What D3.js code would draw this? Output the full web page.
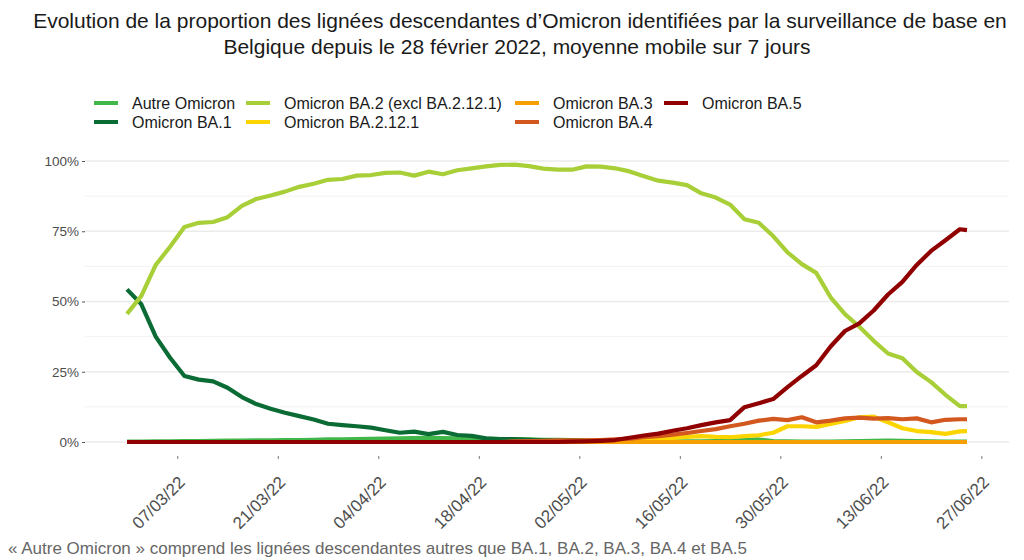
<!DOCTYPE html>
<html>
<head>
<meta charset="utf-8">
<script src="https://cdn.jsdelivr.net/npm/d3@7"></script>
<style>
  body { margin: 0; background: #fff; }
  svg { font-family: "Liberation Sans", Arial, sans-serif; }
</style>
</head>
<body>
<div id="chart"></div>
<script>
// Dates (7-day moving average, every 2nd day + last day)
const dates = ["28/02/22","02/03/22","04/03/22","06/03/22","08/03/22","10/03/22","12/03/22","14/03/22","16/03/22","18/03/22",
  "20/03/22","22/03/22","24/03/22","26/03/22","28/03/22","30/03/22","01/04/22","03/04/22","05/04/22","07/04/22",
  "09/04/22","11/04/22","13/04/22","15/04/22","17/04/22","19/04/22","21/04/22","23/04/22","25/04/22","27/04/22",
  "29/04/22","01/05/22","03/05/22","05/05/22","07/05/22","09/05/22","11/05/22","13/05/22","15/05/22","17/05/22",
  "19/05/22","21/05/22","23/05/22","25/05/22","27/05/22","29/05/22","31/05/22","02/06/22","04/06/22","06/06/22",
  "08/06/22","10/06/22","12/06/22","14/06/22","16/06/22","18/06/22","20/06/22","22/06/22","24/06/22","25/06/22"];

const autre = [0.1,0.1,0.2,0.2,0.3,0.3,0.4,0.5,0.5,0.6, 0.6,0.7,0.7,0.8,0.9,0.9,1.0,1.1,1.2,1.3,
  1.4,1.5,1.4,1.3,1.2,1.1,1.0,0.9,0.9,0.8, 0.8,0.7,0.6,0.5,0.4,0.3,0.3,0.2,0.2,0.2,
  0.2,0.3,0.4,0.7,0.9,0.3,0.2,0.1,0.1,0.1, 0.2,0.3,0.4,0.5,0.4,0.3,0.2,0.1,0.1,0.1];

const ba1 = [54.3,49,37.5,30,23.5,22.2,21.6,19.3,16,13.5, 11.8,10.4,9.2,8,6.5,6,5.6,5.1,4.2,3.3,
  3.7,2.8,3.6,2.5,2.2,1.3,1,1,0.8,0.6, 0.5,0.4,0.3,0.2,0.1,0,0,0,0,0,
  0,0,0,0,0,0,0,0,0,0, 0,0,0,0,0,0,0,0,0,0];

const ba2 = [45.6,52,63,69.5,76.5,78,78.3,80,84,86.5, 87.7,89.1,90.8,91.9,93.3,93.6,94.8,95,95.8,95.9,
  94.8,96.2,95.3,96.7,97.4,98.1,98.6,98.7,98.2,97.3, 96.9,96.9,98.1,98,97.4,96.3,94.6,93,92.3,91.4,
  88.5,87,84.5,79.3,78,73.3,67.5,63.3,60.2,51.5, 45.5,41,36,31.5,29.8,24.9,21.3,16.8,12.8,12.8];

const ba2121 = [0,0,0,0,0,0,0,0,0,0, 0,0,0,0,0,0,0,0,0,0,
  0,0,0,0,0,0,0,0,0,0.1, 0.2,0.3,0.4,0.5,0.6,0.7,0.9,1.0,1.5,1.8,
  2.1,1.8,1.7,2.1,2.4,3.3,5.6,5.6,5.4,6.4, 7.5,8.8,9.0,7.0,4.9,3.9,3.5,2.9,3.8,3.9];

const ba3 = [0,0,0,0,0,0,0,0,0,0, 0,0,0,0,0,0,0,0,0,0,
  0,0,0,0,0,0,0,0,0,0, 0,0,0,0,0,0,0,0,0,0,
  0,0,0,0,0,0,0,0,0,0, 0,0,0,0,0,0,0,0,0,0];

const ba4 = [0,0,0,0,0,0,0,0,0,0, 0,0,0,0,0,0,0,0,0,0,
  0,0,0,0,0,0,0,0.2,0.3,0.4, 0.6,0.6,0.6,0.7,0.9,1.2,1.7,2.1,2.6,3.2,
  3.9,4.6,5.6,6.5,7.6,8.2,7.8,8.8,7.0,7.6, 8.4,8.7,8.3,8.5,8.1,8.4,7.0,7.9,8.1,8.1];

const ba5 = [0,0,0,0,0,0,0,0,0,0, 0,0,0,0,0,0,0,0,0,0,
  0,0,0,0,0,0,0,0,0,0, 0,0.1,0.2,0.4,0.7,1.5,2.3,3,4,4.9,
  6,7,7.8,12.4,13.8,15.3,19.5,23.5,27.3,34, 39.5,42.2,46.8,52.5,57,63,68,71.8,75.7,75.4];

const seriesNames = ["Autre Omicron", "Omicron BA.1", "Omicron BA.2 (excl BA.2.12.1)",
  "Omicron BA.2.12.1", "Omicron BA.3", "Omicron BA.4", "Omicron BA.5"];
const seriesValues = [autre, ba1, ba2, ba2121, ba3, ba4, ba5];
const colors = ["#41b649", "#0b6b35", "#a8cf38", "#fcd400", "#f5a000", "#d3581f", "#900000"];

const xTickLabels = ["07/03/22","21/03/22","04/04/22","18/04/22","02/05/22","16/05/22","30/05/22","13/06/22","27/06/22"];
const yTicks = [0, 25, 50, 75, 100];
const yMinor = [12.5, 37.5, 62.5, 87.5];

const width = 1024, height = 560;
const panel = { left: 85, right: 1009, top: 148, bottom: 456 };

const parse = d3.timeParse("%d/%m/%y");
const dateObjs = dates.map(parse);

const svg = d3.select("#chart").append("svg")
    .attr("width", width)
    .attr("height", height);

// Scales (data area inset like ggplot's 5% expansion)
const x = d3.scaleTime()
    .domain(d3.extent(dateObjs))
    .range([127, 967]);

const y = d3.scaleLinear()
    .domain([0, 100])
    .range([442, 161]);

// Title
const title = svg.append("g").attr("fill", "#1a1a1a").style("font-size", "21px").attr("text-anchor", "middle");
title.append("text").attr("x", 520).attr("y", 28)
    .text("Evolution de la proportion des lignées descendantes d’Omicron identifiées par la surveillance de base en");
title.append("text").attr("x", 517).attr("y", 54)
    .text("Belgique depuis le 28 février 2022, moyenne mobile sur 7 jours");

// Gridlines
svg.append("g").selectAll("line")
    .data(yMinor)
    .join("line")
    .attr("x1", panel.left).attr("x2", panel.right)
    .attr("y1", d => y(d)).attr("y2", d => y(d))
    .attr("stroke", "#f3f3f3").attr("stroke-width", 1);

svg.append("g").selectAll("line")
    .data(yTicks)
    .join("line")
    .attr("x1", panel.left).attr("x2", panel.right)
    .attr("y1", d => y(d)).attr("y2", d => y(d))
    .attr("stroke", "#ebebeb").attr("stroke-width", 1.3);

// Y axis
const yAxis = svg.append("g")
    .attr("transform", `translate(${panel.left},0)`)
    .call(d3.axisLeft(y).tickValues(yTicks).tickSize(3).tickPadding(3).tickFormat(d => d + "%"));
yAxis.select(".domain").remove();
yAxis.selectAll("line").attr("stroke", "#555");
yAxis.selectAll("text").attr("fill", "#4d4d4d").style("font-size", "13.5px")
    .style("font-family", "'Liberation Sans', Arial, sans-serif");

// X axis
const xTicks = xTickLabels.map(parse);
const xAxis = svg.append("g")
    .attr("transform", `translate(0,${panel.bottom})`)
    .call(d3.axisBottom(x).tickValues(xTicks).tickSize(3).tickFormat(d3.timeFormat("%d/%m/%y")));
xAxis.select(".domain").remove();
xAxis.selectAll("line").attr("stroke", "#777");
xAxis.selectAll("text")
    .attr("fill", "#4d4d4d")
    .style("font-size", "17px")
    .style("font-family", "'Liberation Sans', Arial, sans-serif")
    .attr("text-anchor", "end")
    .attr("dy", "0.75em")
    .attr("transform", "translate(-5,14) rotate(-45)");

// Lines
const line = d3.line()
    .x((d, i) => x(dateObjs[i]))
    .y(d => y(d));

svg.append("g").selectAll("path")
    .data(seriesValues)
    .join("path")
    .attr("d", d => line(d))
    .attr("fill", "none")
    .attr("stroke", (d, i) => colors[i])
    .attr("stroke-width", 4.2)
    .attr("stroke-linejoin", "round");

// Legend
const legendPos = [
  { kx: 94, ky: 103 }, { kx: 94, ky: 122 },
  { kx: 246, ky: 103 }, { kx: 246, ky: 122 },
  { kx: 515, ky: 103 }, { kx: 515, ky: 122 },
  { kx: 664, ky: 103 }
];

const legend = svg.append("g").selectAll("g")
    .data(seriesNames)
    .join("g")
    .attr("transform", (d, i) => `translate(${legendPos[i].kx},${legendPos[i].ky})`);

legend.append("line")
    .attr("x1", 0).attr("x2", 24)
    .attr("stroke", (d, i) => colors[i])
    .attr("stroke-width", 4);

legend.append("text")
    .attr("x", 38)
    .attr("dy", "0.36em")
    .attr("fill", "#1a1a1a")
    .style("font-size", "16px")
    .text(d => d);

// Footnote
svg.append("text")
    .attr("x", 8)
    .attr("y", 554)
    .attr("fill", "#666")
    .style("font-size", "17px")
    .text("« Autre Omicron » comprend les lignées descendantes autres que BA.1, BA.2, BA.3, BA.4 et BA.5");
</script>
</body>
</html>
